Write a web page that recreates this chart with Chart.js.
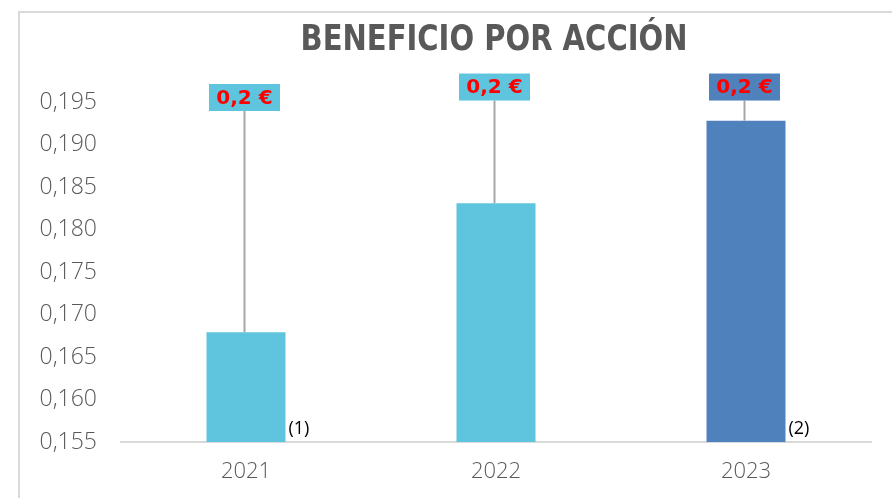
<!DOCTYPE html>
<html>
<head>
<meta charset="utf-8">
<script src="https://cdn.jsdelivr.net/npm/chart.js@4"></script>
<style>
  html, body { margin: 0; padding: 0; background: #fff; }
  #wrap { width: 892px; height: 498px; }
</style>
</head>
<body>
<div id="wrap"><canvas id="bpaChart" width="892" height="498"></canvas></div>
<script>
// Datos del gráfico
const anios = ['2021', '2022', '2023'];
const beneficio = [0.1679, 0.1831, 0.1928];
const notas = ['(1)', '', '(2)'];
const coloresBarras = ['#5fc4de', '#5fc4de', '#4f81bd'];
const ticksEje = [0.155, 0.160, 0.165, 0.170, 0.175, 0.180, 0.185, 0.190, 0.195];

const GRIS = '#595959';

// Marco, título, etiquetas y notas
const extrasPlugin = {
    id: 'extras',
    beforeDraw(chart) {
        const ctx = chart.ctx;
        ctx.save();
        ctx.strokeStyle = '#d9d9d9';
        ctx.lineWidth = 2;
        ctx.beginPath();
        ctx.moveTo(19, 498);
        ctx.lineTo(19, 12);
        ctx.lineTo(892, 12);
        ctx.stroke();

        // título, ajustado al ancho del original
        ctx.fillStyle = GRIS;
        ctx.font = 'bold 36px "Liberation Sans Narrow", "DejaVu Sans Condensed", Arial';
        ctx.textAlign = 'center';
        ctx.textBaseline = 'middle';
        const titulo = 'BENEFICIO POR ACCIÓN';
        const ancho = ctx.measureText(titulo).width;
        const esc = 387 / ancho;
        ctx.translate(494, 41);
        ctx.scale(esc, 1);
        ctx.fillText(titulo, 0, 0);
        ctx.restore();
    },
    afterDatasetsDraw(chart) {
        const ctx = chart.ctx;
        const yScale = chart.scales.y;
        const meta = chart.getDatasetMeta(0);
        // posición vertical de cada caja (en valor del eje)
        const posCaja = [0.19553, 0.19676, 0.19676];
        ctx.save();
        meta.data.forEach((bar, i) => {
            const cx = bar.x - 1.5;
            const cy = yScale.getPixelForValue(posCaja[i]);
            const w = 71, h = 27;

            // línea guía
            ctx.strokeStyle = '#a6a6a6';
            ctx.lineWidth = 2;
            ctx.beginPath();
            ctx.moveTo(cx, cy + h / 2);
            ctx.lineTo(cx, bar.y);
            ctx.stroke();

            // caja con valor
            ctx.fillStyle = coloresBarras[i];
            ctx.fillRect(cx - w / 2, cy - h / 2, w, h);
            ctx.fillStyle = '#ff0000';
            ctx.font = 'bold 20px "DejaVu Sans", Verdana';
            ctx.textAlign = 'center';
            ctx.textBaseline = 'middle';
            const txt = beneficio[i].toFixed(1).replace('.', ',') + ' €';
            ctx.fillText(txt, cx, cy + 1);

            // notas al pie
            if (notas[i]) {
                ctx.fillStyle = '#000';
                ctx.font = '18px "Open Sans", "Liberation Sans", Arial';
                ctx.textAlign = 'left';
                ctx.fillText(notas[i], bar.x + bar.width / 2 + 3, 429);
            }
        });
        ctx.restore();
    }
};

new Chart(document.getElementById('bpaChart'), {
    type: 'bar',
    data: {
        labels: anios,
        datasets: [{
            data: beneficio,
            backgroundColor: coloresBarras,
            borderWidth: 0,
            categoryPercentage: 1,
            barPercentage: 0.316
        }]
    },
    options: {
        responsive: false,
        animation: false,
        layout: {
            padding: { top: 59.5, right: 21, bottom: 0, left: 0 }
        },
        plugins: {
            legend: { display: false },
            tooltip: { enabled: false }
        },
        scales: {
            y: {
                min: 0.155,
                max: 0.2,
                afterFit(scale) { scale.width = 121; },
                afterBuildTicks(scale) {
                    scale.ticks = ticksEje.map(v => ({ value: v }));
                },
                grid: { display: false, drawTicks: false },
                border: { display: false },
                ticks: {
                    padding: 24,
                    color: GRIS,
                    font: { family: '"Open Sans", "DejaVu Sans"', size: 23, weight: 300 },
                    callback: v => v.toFixed(3).replace('.', ',')
                }
            },
            x: {
                afterFit(scale) { scale.height = 56; },
                grid: { display: false, drawTicks: false },
                border: { display: true, color: '#d9d9d9', width: 2 },
                ticks: {
                    padding: 17,
                    color: GRIS,
                    font: { family: '"Open Sans", "DejaVu Sans"', size: 22, weight: 300 }
                }
            }
        }
    },
    plugins: [extrasPlugin]
});
</script>
</body>
</html>
